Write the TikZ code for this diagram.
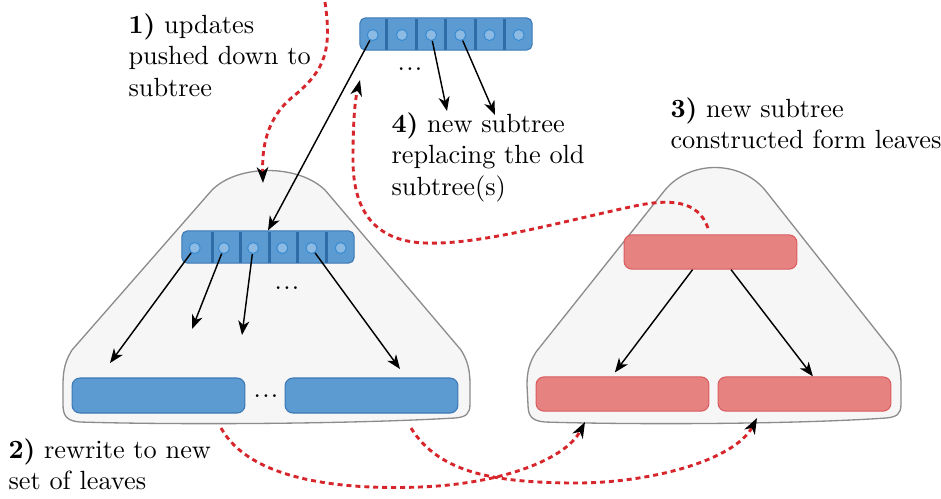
\documentclass[tikz,border=0pt]{standalone}
\usepackage{tikz}
\usetikzlibrary{arrows.meta,calc,positioning}

\definecolor{bluefill}{RGB}{92,155,210}
\definecolor{blueedge}{RGB}{60,120,180}
\definecolor{bluebar}{RGB}{48,108,168}
\definecolor{slotfill}{RGB}{140,186,226}
\definecolor{slotedge}{RGB}{58,140,210}
\definecolor{redfill}{RGB}{230,130,128}
\definecolor{rededge}{RGB}{218,92,96}
\definecolor{updred}{RGB}{214,38,44}
\definecolor{blobfill}{RGB}{246,246,246}
\definecolor{blobedge}{RGB}{140,140,140}

\newcommand{\gapdots}{.\kern.5pt.\kern.5pt.}

\tikzset{
    blob/.style={draw=blobedge, fill=blobfill, line width=0.5pt},
    arr/.style={draw=blueedge, fill=bluefill, rounded corners=2pt,
        minimum width=65.4pt, minimum height=12.2pt, inner sep=0pt},
    slot/.style={circle, draw=slotedge, fill=slotfill, line width=0.4pt,
        minimum size=4.2pt, inner sep=0pt},
    bar/.style={draw=bluebar, line width=1.1pt},
    leafb/.style={draw=blueedge, fill=bluefill, rounded corners=3pt,
        minimum width=65.7pt, minimum height=13.3pt, inner sep=0pt},
    leafr/.style={draw=rededge, fill=redfill, rounded corners=3pt,
        minimum width=65.7pt, minimum height=13pt, inner sep=0pt},
    ptr/.style={-{Stealth[length=5.4pt, width=4.2pt, inset=1.6pt]}, line width=0.55pt},
    upd/.style={draw=updred, line width=1.1pt, dash pattern=on 1.9pt off 1.5pt,
        -{Stealth[length=6pt, width=4.4pt, inset=1.8pt, color=black]}},
    note/.style={align=left, inner sep=0pt, anchor=north west}
}

\begin{document}
\begin{tikzpicture}[x=0.38pt, y=-0.38pt]
    \useasboundingbox (0,0) rectangle (941,498);

    % the two subtrees
    \draw[blob] (80,422) .. controls (68,421) and (63,417) .. (63,405) -- (63,385)
        .. controls (63,368) and (66,360) .. (72,350)
        -- (212,190) .. controls (238,164) and (298,164) .. (325,190)
        -- (461,350) .. controls (467,360) and (470,368) .. (470,385)
        -- (470,404) .. controls (470,414) and (466,417) .. (455,418)
        .. controls (350,424) and (180,425) .. (80,422) -- cycle;
    \draw[blob] (545,422) .. controls (533,421) and (528,417) .. (528,405) -- (527,385)
        .. controls (527,370) and (530,362) .. (536,352)
        -- (665,190) .. controls (690,160) and (740,160) .. (765,190)
        -- (893,352) .. controls (899,362) and (901,370) .. (901,385)
        -- (901,404) .. controls (901,414) and (897,417) .. (886,418)
        .. controls (800,424) and (640,425) .. (545,422) -- cycle;

    % node arrays
    \node[arr] (rootarr) at (446,34) {};
    \foreach \i in {1,...,5}
        \draw[bar] ({357.5+29.4*\i},18.5) -- ++(0,31);
    \foreach \i in {1,...,6}
        \node[slot] (t\i) at ({343.5+29.2*\i},35) {};

    \node[arr] (innerarr) at (268,247) {};
    \foreach \i in {1,...,5}
        \draw[bar] ({183.5+28.6*\i},231.5) -- ++(0,31);
    \foreach \i in {1,...,6}
        \node[slot] (m\i) at ({165.5+29.2*\i},248) {};

    % leaves
    \node[leafb] (bl) at (158.5,395.5) {};
    \node[leafb] (br) at (371.5,395.5) {};
    \node[leafr] (rt) at (710.5,252) {};
    \node[leafr] (rl) at (622.5,394) {};
    \node[leafr] (rr) at (804.5,394) {};

    \node[inner sep=0pt, anchor=base] (d1) at (410,70) {\gapdots};
    \node[inner sep=0pt, anchor=base] (d2) at (287,289) {\gapdots};
    \node[inner sep=0pt, anchor=base] (d3) at (266,397) {\gapdots};

    % free ends
    \coordinate (n1) at (447,111);
    \coordinate (n2) at (495,115);
    \coordinate (c1) at (110,363);
    \coordinate (c2) at (192,329);
    \coordinate (c3) at (242,335);
    \coordinate (c5) at (400,369);

    \draw[ptr] (t1) -- (innerarr.north);
    \draw[ptr] (t3) -- (n1);
    \draw[ptr] (t4) -- (n2);
    \draw[ptr] (m1) -- (c1);
    \draw[ptr] (m2) -- (c2);
    \draw[ptr] (m3) -- (c3);
    \draw[ptr] (m5) -- (c5);
    \draw[ptr] ([xshift=-6.8pt]rt.south) -- ([xshift=-2.9pt, yshift=1.5pt]rl.north);
    \draw[ptr] ([xshift=7.8pt]rt.south) -- ([xshift=3.2pt]rr.north);

    % update paths
    \coordinate (u0) at (325,2);
    \coordinate (u1) at (263,183);
    \coordinate (r0) at (708,228);
    \coordinate (r1) at (360,80);
    \coordinate (w0) at (221,428);
    \coordinate (w1) at (585,422);
    \coordinate (v0) at (411,428);
    \coordinate (v1) at (757,418);

    \draw[upd] (u0) .. controls (332,50) and (325,70) .. (295,95)
        .. controls (265,118) and (262,150) .. (u1);
    \draw[upd] (r0) .. controls (698,200) and (670,198) .. (630,207)
        .. controls (560,222) and (480,245) .. (425,243)
        .. controls (370,241) and (353,205) .. (353,160)
        .. controls (353,120) and (355,100) .. (r1);
    \draw[upd] (w0) .. controls (250,480) and (340,490) .. (420,487)
        .. controls (500,484) and (565,460) .. (w1);
    \draw[upd] (v0) .. controls (440,475) and (500,482) .. (570,483)
        .. controls (650,484) and (735,460) .. (v1);

    % notes
    \node[note] (lab1) at (128,13) {\textbf{1)} updates\\pushed down to\\subtree};
    \node[note] (lab2) at (8,438) {\textbf{2)} rewrite to new\\set of leaves};
    \node[note] (lab3) at (670,97) {\textbf{3)} new subtree\\constructed form leaves};
    \node[note] (lab4) at (391,112) {\textbf{4)} new subtree\\replacing the old\\subtree(s)};
\end{tikzpicture}
\end{document}
